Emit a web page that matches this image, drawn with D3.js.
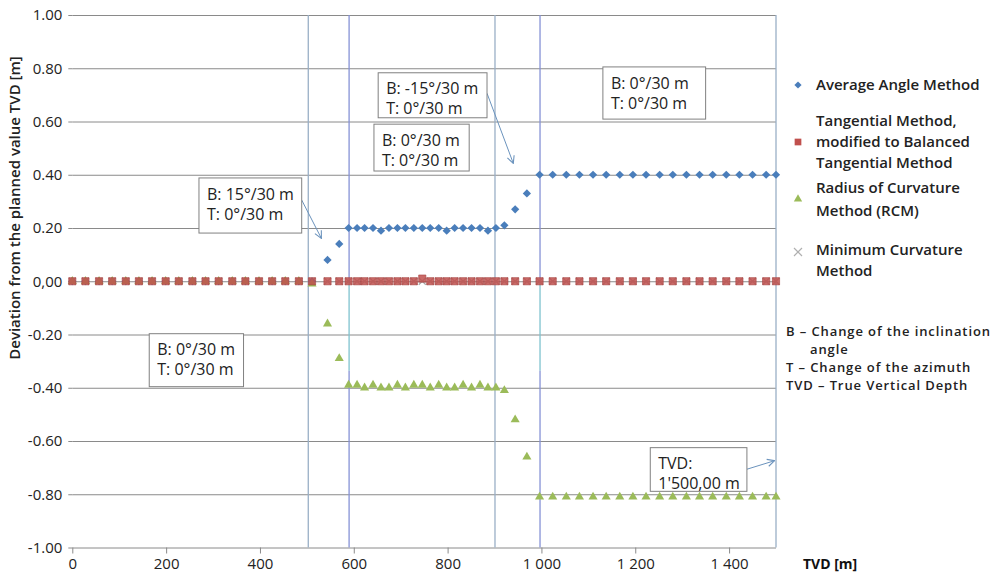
<!DOCTYPE html>
<html><head><meta charset="utf-8">
<script src="https://cdn.jsdelivr.net/npm/d3@7/dist/d3.min.js"></script>
<style>
body{margin:0;background:#fff;}
svg{display:block;font-family:"Open Sans","Noto Sans",sans-serif;}
</style>
</head><body>
<svg id="chart" width="997" height="576"></svg>
<script>
// ---------- DATA ----------
const tvd = [0,28,57,85,114,142,170,199,227,256,284,312,341,369,398,426,454,483,511,
  544,569,589,607,623,641,658,675,693,710,728,746,763,781,798,815,833,851,869,886,903,921,944,969,
  996,1024,1053,1081,1110,1138,1167,1195,1223,1252,1280,1309,1337,1365,1394,1422,1450,1479,1500];
const averageAngle = [0,0,0,0,0,0,0,0,0,0,0,0,0,0,0,0,0,0,0,
  0.08,0.14,0.20,0.20,0.20,0.20,0.19,0.20,0.20,0.20,0.20,0.20,0.20,0.20,0.19,0.20,0.20,0.20,0.20,0.19,0.20,0.21,0.27,0.33,
  0.40,0.40,0.40,0.40,0.40,0.40,0.40,0.40,0.40,0.40,0.40,0.40,0.40,0.40,0.40,0.40,0.40,0.40,0.40];
const balancedTangential = [0,0,0,0,0,0,0,0,0,0,0,0,0,0,0,0,0,0,0,
  0,0,0,0,0,0,0,0,0,0,0,0.01,0,0,0,0,0,0,0,0,0,0,0,0,
  0,0,0,0,0,0,0,0,0,0,0,0,0,0,0,0,0,0,0];
const radiusOfCurvature = [0,0,0,0,0,0,0,0,0,0,0,0,0,0,0,0,0,0,-0.01,
  -0.16,-0.29,-0.39,-0.39,-0.40,-0.39,-0.40,-0.40,-0.39,-0.40,-0.39,-0.39,-0.40,-0.39,-0.40,-0.40,-0.39,-0.40,-0.39,-0.40,-0.40,-0.41,-0.52,-0.66,
  -0.81,-0.81,-0.81,-0.81,-0.81,-0.81,-0.81,-0.81,-0.81,-0.81,-0.81,-0.81,-0.81,-0.81,-0.81,-0.81,-0.81,-0.81,-0.81];
const minimumCurvature = [0,0,0,0,0,0,0,0,0,0,0,0,0,0,0,0,0,0,0,
  0,0,0,0,0,0,0,0,0,0,0,0,0,0,0,0,0,0,0,0,0,0,0,0,
  0,0,0,0,0,0,0,0,0,0,0,0,0,0,0,0,0,0,0];

const seriesNames = ["Average Angle Method",
  "Tangential Method,|modified to Balanced|Tangential Method",
  "Radius of Curvature|Method (RCM)",
  "Minimum Curvature|Method"];
const yTicks = [1,0.8,0.6,0.4,0.2,0,-0.2,-0.4,-0.6,-0.8,-1];
const yTickLabels = ["1.00","0.80","0.60","0.40","0.20","0,00","-0.20","-0.40","-0.60","-0.80","-1.00"];
const xTicks = [0,200,400,600,800,1000,1200,1400];
const xTickLabels = ["0","200","400","600","800","1 000","1 200","1 400"];
const sectionBounds = [503,590,901,997,1500];
const noteLines = ["B – Change of the inclination","angle","T – Change of the azimuth","TVD – True Vertical Depth"];
const callouts = [
  {lines:["B: 15°/30 m","T: 0°/30 m"], box:[270,489,0.388,0.181], arrow:[489,0.305,531,0.161]},
  {lines:["B: -15°/30 m","T: 0°/30 m"], box:[652,884,0.783,0.614], arrow:[884,0.706,940,0.443]},
  {lines:["B: 0°/30 m","T: 0°/30 m"], box:[643,846,0.590,0.414]},
  {lines:["B: 0°/30 m","T: 0°/30 m"], box:[1131,1350,0.805,0.609]},
  {lines:["B: 0°/30 m","T: 0°/30 m"], box:[164,365,-0.197,-0.396]},
  {lines:["TVD:","1'500,00 m"], box:[1232,1438,-0.625,-0.789], arrow:[1438,-0.706,1497,-0.674]}
];

// ---------- DRAW ----------
const svg = d3.select("#chart");
const x = d3.scaleLinear().domain([0,1500]).range([72.3,776]);
const y = d3.scaleLinear().domain([-1,1]).range([547.5,15]);
const gridColor = "#8a8a8a";

// gridlines
svg.append("g").attr("transform","translate(72.3,0)")
  .call(d3.axisLeft(y).tickValues(yTicks).tickSize(-(776-72.3)).tickFormat(""))
  .call(g=>g.select(".domain").remove())
  .call(g=>g.selectAll("line").attr("stroke",gridColor).attr("stroke-width",1));

// y axis labels
svg.append("g").attr("transform","translate(72.3,0)")
  .call(d3.axisLeft(y).tickValues(yTicks).tickSize(4).tickPadding(6)
    .tickFormat((d,i)=>yTickLabels[i]))
  .call(g=>g.select(".domain").remove())
  .call(g=>g.selectAll("line").attr("stroke",gridColor))
  .call(g=>g.selectAll("text").attr("font-size",15).attr("fill","#222")
    .attr("font-family","'Open Sans',sans-serif"));

// x axis
svg.append("g").attr("transform","translate(0,547.5)")
  .call(d3.axisBottom(x).tickValues(xTicks).tickSize(6).tickPadding(5)
    .tickFormat((d,i)=>xTickLabels[i]))
  .call(g=>g.select(".domain").remove())
  .call(g=>g.selectAll("line").attr("stroke",gridColor))
  .call(g=>g.selectAll("text").attr("font-size",15).attr("fill","#222")
    .attr("font-family","'Open Sans',sans-serif"));

svg.append("text").attr("x",803).attr("y",569).attr("font-size",14)
  .attr("font-weight","bold").attr("fill","#111").text("TVD [m]");

svg.append("text").attr("transform","translate(20,208) rotate(-90)")
  .attr("text-anchor","middle").attr("font-size",15).attr("font-weight",600)
  .attr("fill","#222").text("Deviation from the planned value TVD [m]");

// section boundary lines
const blue = "#8692d6", teal = "#7fc3cf", grayBlue = "#9aafc6";
sectionBounds.forEach((b,i)=>{
  if (i===1 || i===3) {
    [[1,0,blue],[0,-0.336,teal],[-0.336,-1,blue]].forEach(s=>{
      svg.append("line").attr("x1",x(b)).attr("x2",x(b)).attr("y1",y(s[0])).attr("y2",y(s[1]))
        .attr("stroke",s[2]).attr("stroke-width",1.3);
    });
  } else {
    svg.append("line").attr("x1",x(b)).attr("x2",x(b)).attr("y1",y(1)).attr("y2",y(-1))
      .attr("stroke",grayBlue).attr("stroke-width",1.3);
  }
});

// markers
const cBlue="#4a7ebb", cRed="#c0504d", cGreen="#9bbb59", cGray="#a6a6a6";
const xPath = s => `M${-s},${-s}L${s},${s}M${-s},${s}L${s},${-s}`;
svg.append("g").selectAll("path").data(tvd).join("path")
  .attr("transform",(d,i)=>`translate(${x(d)},${y(minimumCurvature[i])})`)
  .attr("d",xPath(3.5)).attr("stroke",cGray).attr("stroke-width",1.2).attr("fill","none");
svg.append("g").selectAll("path").data(tvd).join("path")
  .attr("transform",(d,i)=>`translate(${x(d)},${y(averageAngle[i])}) rotate(45)`)
  .attr("d",d3.symbol(d3.symbolSquare,34)()).attr("fill",cBlue);
svg.append("g").selectAll("path").data(tvd).join("path")
  .attr("transform",(d,i)=>`translate(${x(d)},${y(radiusOfCurvature[i])})`)
  .attr("d",d3.symbol(d3.symbolTriangle,36)()).attr("fill",cGreen);
svg.append("g").selectAll("path").data(tvd).join("path")
  .attr("transform",(d,i)=>`translate(${x(d)},${y(balancedTangential[i])})`)
  .attr("d",d3.symbol(d3.symbolSquare,52)()).attr("fill",cRed).attr("fill-opacity",0.85)
  .attr("stroke","#a8413f").attr("stroke-width",0.6);

// callouts
const defs = svg.append("defs");
defs.append("marker").attr("id","ah").attr("viewBox","0 0 10 10").attr("refX",9).attr("refY",5)
  .attr("markerWidth",9).attr("markerHeight",9).attr("orient","auto")
  .append("path").attr("d","M1,1L9,5L1,9").attr("fill","none").attr("stroke","#6b93bd").attr("stroke-width",1.2);
callouts.forEach(c=>{
  const [x0,x1,yt,yb] = c.box;
  if (c.arrow) {
    svg.append("line").attr("x1",x(c.arrow[0])).attr("y1",y(c.arrow[1]))
      .attr("x2",x(c.arrow[2])).attr("y2",y(c.arrow[3]))
      .attr("stroke","#6b93bd").attr("stroke-width",1).attr("marker-end","url(#ah)");
  }
  svg.append("rect").attr("x",x(x0)).attr("y",y(yt)).attr("width",x(x1)-x(x0)).attr("height",y(yb)-y(yt))
    .attr("fill","#fff").attr("stroke","#808080").attr("stroke-width",1);
  const t = svg.append("text").attr("font-size",16).attr("fill","#222");
  c.lines.forEach((s,k)=>{
    t.append("tspan").attr("x",x(x0)+8).attr("y",y(yt)+16+20*k).attr("dy","0.35em").text(s);
  });
});

// legend
const legY = [85,142,199,252];
const legTextY = [[85],[121,142,163],[188,211],[250,271]];
const lg = svg.append("g");
lg.append("path").attr("transform",`translate(798,${legY[0]}) rotate(45)`).attr("d",d3.symbol(d3.symbolSquare,26)()).attr("fill",cBlue);
lg.append("path").attr("transform",`translate(798,${legY[1]})`).attr("d",d3.symbol(d3.symbolSquare,45)()).attr("fill",cRed);
lg.append("path").attr("transform",`translate(798,${legY[2]})`).attr("d",d3.symbol(d3.symbolTriangle,30)()).attr("fill",cGreen);
lg.append("path").attr("transform",`translate(798,${legY[3]})`).attr("d",xPath(4)).attr("stroke","#b0b0b0").attr("stroke-width",1.2).attr("fill","none");
seriesNames.forEach((n,i)=>{
  const t = lg.append("text").attr("font-size",15).attr("font-weight",600).attr("fill","#222");
  n.split("|").forEach((s,k)=>{
    t.append("tspan").attr("x",816).attr("y",legTextY[i][k]).attr("dy","0.35em").text(s);
  });
});
const noteX = [786,810,786,786], noteY = [331,349,367,385];
const notes = svg.append("text").attr("font-size",13).attr("font-weight",600)
  .attr("letter-spacing",0.9).attr("fill","#222");
noteLines.forEach((s,i)=>{
  notes.append("tspan").attr("x",noteX[i]).attr("y",noteY[i]).attr("dy","0.35em").text(s);
});
</script>
</body></html>
